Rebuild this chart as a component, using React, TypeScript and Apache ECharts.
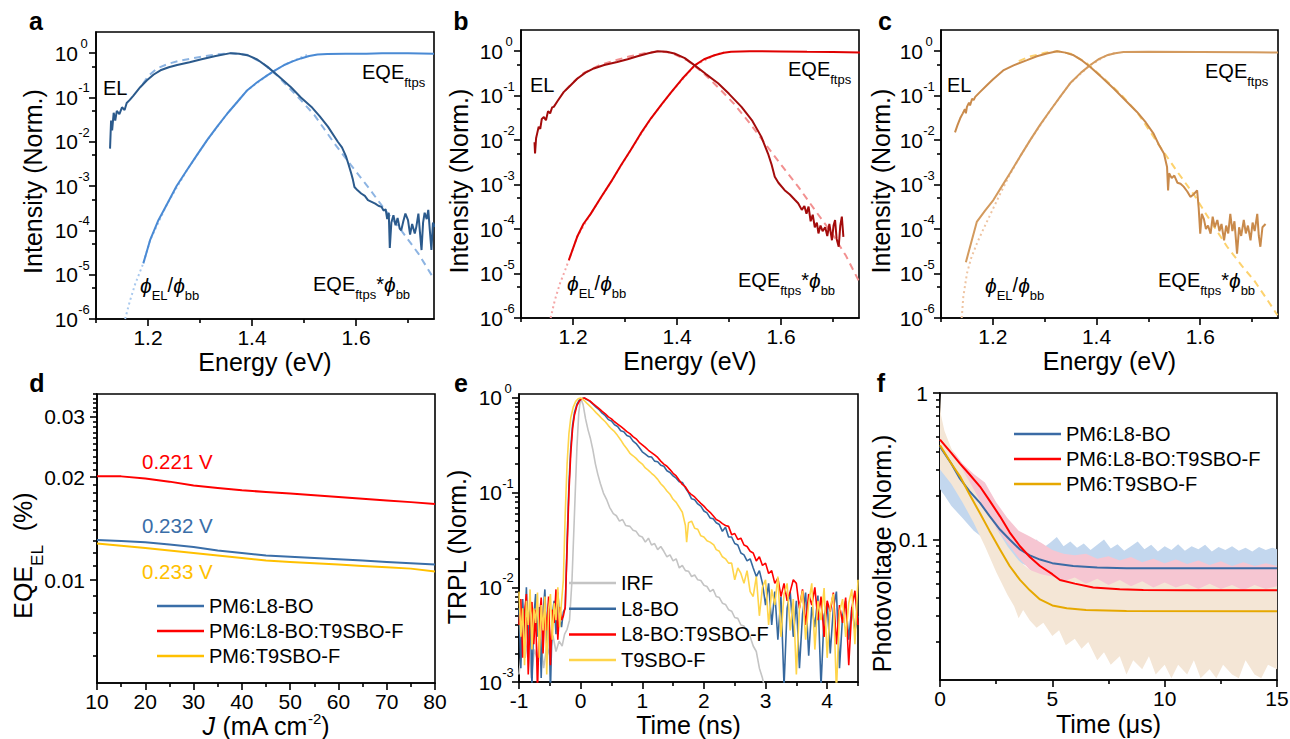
import React, { useEffect, useRef } from 'react';
import * as echarts from 'echarts';

const FONT = "'Liberation Sans', Arial, Helvetica, sans-serif";

// ---------------- ticks ----------------
const energyMajor = [1.2, 1.4, 1.6];
const energyMinor = [1.1, 1.3, 1.5, 1.7];
const intensityMajor = [1e-6, 1e-5, 1e-4, 1e-3, 1e-2, 1e-1, 1];
const intensityMinor = [5e-6, 5e-5, 5e-4, 5e-3, 5e-2, 5e-1];
const jMajor = [10, 20, 30, 40, 50, 60, 70, 80];
const jMinor = [15, 25, 35, 45, 55, 65, 75];
const eqeMajor = [0.01, 0.02, 0.03];
const eqeMinor = [0.006, 0.007, 0.008, 0.009, 0.011, 0.012, 0.013, 0.014, 0.015, 0.016, 0.017, 0.018, 0.019,
  0.021, 0.022, 0.023, 0.024, 0.025, 0.026, 0.027, 0.028, 0.029, 0.031, 0.032, 0.033, 0.034, 0.035];
const tnsMajor = [-1, 0, 1, 2, 3, 4];
const tnsMinor = [-0.5, 0.5, 1.5, 2.5, 3.5, 4.5];
const trplMajor = [1e-3, 1e-2, 1e-1, 1];
const trplMinor = [0.002, 0.003, 0.004, 0.005, 0.006, 0.007, 0.008, 0.009, 0.02, 0.03, 0.04, 0.05, 0.06, 0.07, 0.08, 0.09,
  0.2, 0.3, 0.4, 0.5, 0.6, 0.7, 0.8, 0.9];
const tusMajor = [0, 5, 10, 15];
const tusMinor = [2.5, 7.5, 12.5];
const pvMajor = [0.1, 1];
const pvMinor = [0.02, 0.03, 0.04, 0.05, 0.06, 0.07, 0.08, 0.09, 0.2, 0.3, 0.4, 0.5, 0.6, 0.7, 0.8, 0.9];

// ---------------- panel a ----------------
const aEL = [[1.127, 0.007], [1.129, 0.03], [1.131, 0.018], [1.134, 0.045], [1.137, 0.03], [1.14, 0.05], [1.145, 0.042], [1.15, 0.06],
  [1.155, 0.052], [1.159, 0.075], [1.165, 0.088], [1.172, 0.11], [1.185, 0.17], [1.198, 0.245], [1.211, 0.33], [1.224, 0.41],
  [1.24, 0.48], [1.256, 0.54], [1.28, 0.62], [1.301, 0.72], [1.33, 0.86], [1.359, 1.0], [1.375, 0.97], [1.391, 0.9], [1.41, 0.72],
  [1.43, 0.49], [1.45, 0.31], [1.475, 0.17], [1.494, 0.1], [1.514, 0.062], [1.53, 0.038], [1.546, 0.022], [1.565, 0.01],
  [1.573, 0.0075], [1.581, 0.0046], [1.586, 0.003], [1.591, 0.0019], [1.594, 0.0014], [1.597, 0.00095], [1.603, 0.0008],
  [1.61, 0.00068], [1.617, 0.0006], [1.623, 0.00048], [1.63, 0.00044], [1.637, 0.0004], [1.643, 0.00036], [1.649, 0.00034],
  [1.653, 0.00028], [1.657, 0.0003], [1.66, 0.00018], [1.663, 0.00025], [1.665, 0.00004], [1.668, 0.00015], [1.672, 0.00022],
  [1.676, 0.00013], [1.68, 0.00019], [1.684, 0.00011], [1.687, 0.0001], [1.691, 0.00016], [1.695, 0.00024], [1.7, 0.00017],
  [1.704, 0.00008], [1.708, 0.00014], [1.713, 0.000085], [1.716, 0.00012], [1.72, 0.00024], [1.723, 0.00009], [1.726, 0.000036],
  [1.729, 0.00015], [1.732, 0.00025], [1.736, 0.00018], [1.739, 0.00029], [1.742, 0.0001], [1.745, 0.000036], [1.748, 0.00015],
  [1.752, 0.00012]];
const aFit = [[1.19, 0.2], [1.2, 0.3], [1.217, 0.45], [1.24, 0.58], [1.262, 0.68], [1.3, 0.82], [1.33, 0.93], [1.36, 1.0],
  [1.39, 0.92], [1.42, 0.6], [1.45, 0.3], [1.494, 0.087], [1.52, 0.04], [1.559, 0.009], [1.59, 0.003], [1.623, 0.00096],
  [1.655, 0.0003], [1.687, 0.0001], [1.72, 0.00003], [1.75, 0.000008]];
const aEQE = [[1.191, 1.8e-5], [1.204, 6e-5], [1.22, 1.7e-4], [1.237, 4e-4], [1.255, 1e-3], [1.275, 2.3e-3], [1.295, 5.2e-3],
  [1.314, 0.011], [1.333, 0.022], [1.353, 0.044], [1.372, 0.08], [1.391, 0.146], [1.41, 0.22], [1.43, 0.32], [1.446, 0.42],
  [1.462, 0.54], [1.478, 0.65], [1.494, 0.76], [1.51, 0.86], [1.526, 0.93], [1.545, 0.96], [1.58, 0.97], [1.62, 0.97],
  [1.65, 1.0], [1.7, 0.99], [1.75, 0.97]];
const aPhi = [[1.156, 1e-6], [1.165, 2.5e-6], [1.175, 6e-6], [1.185, 1.2e-5], [1.191, 1.8e-5], [1.204, 6e-5], [1.237, 4e-4],
  [1.275, 2.3e-3], [1.314, 0.011], [1.353, 0.044], [1.391, 0.146], [1.43, 0.32], [1.462, 0.54], [1.494, 0.8], [1.51, 0.95]];

// ---------------- panel b ----------------
const bEL = [[1.126, 0.009], [1.127, 0.005], [1.129, 0.011], [1.131, 0.014], [1.134, 0.02], [1.137, 0.018], [1.14, 0.03],
  [1.144, 0.033], [1.148, 0.028], [1.152, 0.045], [1.156, 0.04], [1.16, 0.055], [1.163, 0.056], [1.17, 0.075], [1.182, 0.12],
  [1.195, 0.17], [1.208, 0.24], [1.224, 0.33], [1.24, 0.41], [1.26, 0.49], [1.285, 0.57], [1.305, 0.66], [1.324, 0.77],
  [1.345, 0.9], [1.363, 1.0], [1.38, 0.97], [1.395, 0.89], [1.415, 0.7], [1.434, 0.48], [1.455, 0.31], [1.479, 0.19], [1.5, 0.11],
  [1.524, 0.056], [1.545, 0.027], [1.562, 0.012], [1.575, 0.005], [1.582, 0.0028], [1.588, 0.0015], [1.595, 0.0011],
  [1.607, 0.00075], [1.617, 0.0006], [1.627, 0.00045], [1.633, 0.00038], [1.64, 0.00027], [1.645, 0.00033], [1.649, 0.00022],
  [1.653, 0.00032], [1.657, 0.00015], [1.661, 0.00021], [1.665, 0.00011], [1.669, 0.00014], [1.672, 0.00008], [1.676, 0.00012],
  [1.68, 0.00009], [1.685, 0.00011], [1.689, 0.00007], [1.693, 0.00013], [1.698, 0.000056], [1.701, 0.00012], [1.704, 0.00016],
  [1.707, 0.00006], [1.711, 0.00004], [1.714, 0.00012], [1.717, 0.00019], [1.72, 0.000067]];
const bFit = [[1.185, 0.13], [1.2, 0.2], [1.22, 0.32], [1.25, 0.48], [1.28, 0.62], [1.31, 0.77], [1.34, 0.92], [1.365, 1.0],
  [1.39, 0.92], [1.42, 0.62], [1.45, 0.33], [1.48, 0.15], [1.51, 0.065], [1.54, 0.024], [1.569, 0.0085], [1.6, 0.0028],
  [1.633, 0.0009], [1.665, 0.00027], [1.698, 0.00008], [1.725, 0.000025], [1.752, 0.000006]];
const bEQE = [[1.192, 2e-5], [1.208, 6.7e-5], [1.22, 1.3e-4], [1.234, 2.2e-4], [1.253, 5e-4], [1.273, 1.15e-3], [1.292, 2.7e-3],
  [1.311, 6e-3], [1.33, 0.014], [1.35, 0.031], [1.37, 0.063], [1.389, 0.12], [1.41, 0.24], [1.434, 0.48], [1.452, 0.66],
  [1.472, 0.81], [1.49, 0.92], [1.504, 0.97], [1.54, 1.0], [1.6, 0.99], [1.65, 0.97], [1.7, 0.96], [1.752, 0.94]];
const bPhi = [[1.157, 1e-6], [1.165, 2.5e-6], [1.175, 6e-6], [1.185, 1.2e-5], [1.192, 2e-5], [1.208, 6.7e-5], [1.234, 2.2e-4],
  [1.273, 1.15e-3], [1.311, 6e-3], [1.35, 0.031], [1.389, 0.12], [1.434, 0.48], [1.472, 0.81], [1.49, 0.95]];

// ---------------- panel c ----------------
const cEL = [[1.127, 0.015], [1.132, 0.022], [1.137, 0.031], [1.142, 0.04], [1.146, 0.05], [1.148, 0.04], [1.15, 0.056],
  [1.154, 0.07], [1.156, 0.06], [1.16, 0.085], [1.163, 0.08], [1.166, 0.094], [1.175, 0.12], [1.188, 0.17], [1.2, 0.23],
  [1.22, 0.37], [1.24, 0.48], [1.266, 0.63], [1.285, 0.77], [1.304, 0.89], [1.324, 1.0], [1.34, 0.93], [1.356, 0.81],
  [1.372, 0.62], [1.388, 0.44], [1.41, 0.26], [1.433, 0.145], [1.455, 0.08], [1.478, 0.043], [1.495, 0.025], [1.51, 0.014],
  [1.52, 0.008], [1.53, 0.005], [1.536, 0.0025], [1.538, 0.00074], [1.54, 0.0018], [1.545, 0.0014], [1.55, 0.0016],
  [1.556, 0.0011], [1.562, 0.00105], [1.568, 0.0009], [1.575, 0.0007], [1.581, 0.00053], [1.587, 0.0006], [1.594, 0.00074],
  [1.597, 0.0003], [1.6, 0.000079], [1.603, 0.00022], [1.607, 0.00017], [1.611, 0.0001], [1.615, 0.00012], [1.62, 0.000079],
  [1.624, 0.00019], [1.628, 0.00011], [1.633, 0.00016], [1.637, 0.00009], [1.641, 0.00013], [1.646, 0.000056], [1.65, 0.00012],
  [1.654, 0.00008], [1.658, 0.00022], [1.662, 0.00009], [1.666, 0.00015], [1.671, 0.000028], [1.675, 0.00011], [1.679, 0.00007],
  [1.684, 0.00016], [1.688, 0.00008], [1.692, 0.00012], [1.697, 0.000056], [1.701, 0.00014], [1.705, 0.00009], [1.71, 0.00022],
  [1.713, 0.00007], [1.716, 0.00004], [1.72, 0.00011], [1.726, 0.00013]];
const cFit = [[1.25, 0.6], [1.27, 0.75], [1.3, 0.92], [1.324, 1.0], [1.35, 0.88], [1.38, 0.55], [1.41, 0.27], [1.446, 0.11],
  [1.48, 0.04], [1.523, 0.007], [1.555, 0.002], [1.588, 0.00059], [1.62, 0.00015], [1.652, 0.00004], [1.68, 0.000015],
  [1.704, 0.000007], [1.73, 0.0000025], [1.749, 0.00000115]];
const cEQE = [[1.148, 1.8e-5], [1.169, 1.45e-4], [1.185, 2.6e-4], [1.201, 4.5e-4], [1.217, 9e-4], [1.233, 1.8e-3],
  [1.252, 4.2e-3], [1.272, 0.01], [1.291, 0.022], [1.311, 0.047], [1.33, 0.095], [1.349, 0.19], [1.37, 0.33], [1.388, 0.49],
  [1.405, 0.67], [1.42, 0.81], [1.436, 0.9], [1.452, 0.96], [1.5, 0.97], [1.6, 0.96], [1.7, 0.95], [1.75, 0.93]];
const cPhi = [[1.14, 1e-6], [1.143, 3e-6], [1.15, 1e-5], [1.158, 2.2e-5], [1.17, 5e-5], [1.185, 1.2e-4], [1.2, 2.8e-4],
  [1.215, 6.5e-4], [1.233, 1.7e-3], [1.252, 4.2e-3], [1.272, 0.01], [1.311, 0.047], [1.349, 0.19], [1.388, 0.49], [1.42, 0.81],
  [1.44, 0.95]];

// ---------------- panel d ----------------
const dJ = [10, 15, 20, 25, 30, 35, 40, 45, 50, 55, 60, 65, 70, 75, 80];
const dL8 = [0.0131, 0.0130, 0.0129, 0.0127, 0.0125, 0.0122, 0.0120, 0.0118, 0.0117, 0.0116, 0.0115, 0.0114, 0.0113, 0.0112, 0.0111];
const dTer = [0.0201, 0.0201, 0.0198, 0.0194, 0.0189, 0.0186, 0.0183, 0.0181, 0.0179, 0.0177, 0.0175, 0.0173, 0.0171, 0.0169, 0.0167];
const dT9 = [0.0128, 0.0126, 0.0124, 0.0122, 0.0120, 0.0118, 0.0116, 0.0114, 0.0113, 0.0112, 0.0111, 0.0110, 0.0109, 0.0108, 0.0106];
const dNames = ['PM6:L8-BO', 'PM6:L8-BO:T9SBO-F', 'PM6:T9SBO-F'];
const dVoc = ['0.232 V', '0.221 V', '0.233 V'];

// ---------------- panel e ----------------
const eIRF = [[-1.0, 0.0012], [-0.95, 0.0025], [-0.9, 0.0018], [-0.85, 0.003], [-0.8, 0.0011], [-0.75, 0.0022], [-0.7, 0.0017],
  [-0.65, 0.0028], [-0.6, 0.0014], [-0.55, 0.0024], [-0.5, 0.0019], [-0.45, 0.0031], [-0.4, 0.0021], [-0.35, 0.0027], [-0.3, 0.0024],
  [-0.26, 0.0032], [-0.22, 0.0036], [-0.18, 0.0045], [-0.14, 0.012], [-0.1, 0.06], [-0.06, 0.3], [-0.03, 0.7], [0.0, 1.0],
  [0.04, 0.85], [0.08, 0.6], [0.12, 0.46], [0.16, 0.37], [0.2, 0.28], [0.24, 0.2], [0.28, 0.155], [0.32, 0.125], [0.37, 0.099],
  [0.42, 0.085], [0.47, 0.07], [0.53, 0.06], [0.58, 0.057], [0.63, 0.05], [0.68, 0.052], [0.73, 0.045], [0.8, 0.044], [0.85, 0.04],
  [0.9, 0.039], [0.95, 0.035], [1.0, 0.034], [1.05, 0.03], [1.1, 0.033], [1.15, 0.028], [1.2, 0.029], [1.25, 0.025], [1.3, 0.027],
  [1.35, 0.024], [1.4, 0.021], [1.45, 0.022], [1.5, 0.019], [1.55, 0.02], [1.6, 0.016], [1.65, 0.017], [1.7, 0.015], [1.75, 0.0148],
  [1.8, 0.013], [1.85, 0.0135], [1.9, 0.012], [1.95, 0.0118], [2.0, 0.0105], [2.05, 0.0102], [2.1, 0.009], [2.15, 0.0095],
  [2.2, 0.008], [2.25, 0.0078], [2.3, 0.0068], [2.35, 0.0066], [2.4, 0.0058], [2.45, 0.0056], [2.5, 0.0048], [2.55, 0.0047],
  [2.6, 0.004], [2.65, 0.0039], [2.7, 0.0033], [2.75, 0.003], [2.8, 0.0024], [2.85, 0.0021], [2.9, 0.0014], [2.95, 0.0011],
  [3.0, 0.0008]];
const eL8 = [[-1.0, 0.006], [-0.97, 0.0014], [-0.94, 0.0075], [-0.91, 0.0028], [-0.88, 0.01], [-0.85, 0.0022], [-0.82, 0.0065],
  [-0.79, 0.0009], [-0.76, 0.0048], [-0.73, 0.0085], [-0.7, 0.003], [-0.67, 0.0062], [-0.64, 0.0011], [-0.61, 0.0052],
  [-0.58, 0.0095], [-0.55, 0.0025], [-0.52, 0.0068], [-0.49, 0.0008], [-0.46, 0.005], [-0.43, 0.0072], [-0.4, 0.0032],
  [-0.37, 0.0088], [-0.34, 0.0047], [-0.31, 0.0038], [-0.28, 0.0055], [-0.25, 0.006], [-0.22, 0.03], [-0.19, 0.12], [-0.16, 0.3],
  [-0.13, 0.52], [-0.1, 0.7], [-0.06, 0.86], [-0.02, 0.95], [0.02, 0.98], [0.06, 1.0], [0.1, 0.96], [0.15, 0.92], [0.2, 0.86],
  [0.25, 0.8], [0.3, 0.75], [0.35, 0.69], [0.4, 0.65], [0.45, 0.59], [0.5, 0.57], [0.55, 0.52], [0.6, 0.5], [0.65, 0.45],
  [0.7, 0.44], [0.75, 0.4], [0.8, 0.39], [0.85, 0.35], [0.9, 0.33], [0.95, 0.3], [1.0, 0.27], [1.05, 0.255], [1.1, 0.24],
  [1.15, 0.238], [1.2, 0.215], [1.25, 0.212], [1.3, 0.195], [1.35, 0.19], [1.4, 0.17], [1.45, 0.163], [1.5, 0.15], [1.55, 0.142],
  [1.6, 0.13], [1.65, 0.128], [1.7, 0.112], [1.75, 0.1], [1.8, 0.086], [1.85, 0.084], [1.9, 0.076], [1.95, 0.072], [2.0, 0.064],
  [2.05, 0.061], [2.1, 0.054], [2.15, 0.053], [2.2, 0.048], [2.25, 0.046], [2.3, 0.039], [2.35, 0.043], [2.4, 0.034],
  [2.45, 0.034], [2.5, 0.029], [2.55, 0.028], [2.6, 0.023], [2.65, 0.022], [2.7, 0.019], [2.75, 0.02], [2.8, 0.016],
  [2.85, 0.013], [2.9, 0.015], [2.95, 0.011], [3.0, 0.0065], [3.05, 0.011], [3.1, 0.004], [3.15, 0.009], [3.2, 0.0028],
  [3.25, 0.008], [3.3, 0.0009], [3.35, 0.006], [3.4, 0.009], [3.45, 0.003], [3.5, 0.0072], [3.55, 0.0014], [3.6, 0.0052],
  [3.65, 0.0088], [3.7, 0.0019], [3.75, 0.0062], [3.8, 0.0038], [3.85, 0.0082], [3.9, 0.0009], [3.95, 0.005], [4.0, 0.0068],
  [4.05, 0.002], [4.1, 0.006], [4.15, 0.009], [4.2, 0.0014], [4.25, 0.005], [4.3, 0.0072], [4.35, 0.0028], [4.4, 0.0062],
  [4.45, 0.0035], [4.5, 0.005]];
const eTer = [[-1.0, 0.004], [-0.97, 0.0075], [-0.94, 0.0018], [-0.91, 0.0055], [-0.88, 0.0085], [-0.85, 0.0012], [-0.82, 0.005],
  [-0.79, 0.007], [-0.76, 0.0025], [-0.73, 0.0058], [-0.7, 0.0008], [-0.67, 0.0045], [-0.64, 0.0078], [-0.61, 0.002],
  [-0.58, 0.0062], [-0.55, 0.0035], [-0.52, 0.008], [-0.49, 0.0015], [-0.46, 0.0058], [-0.43, 0.0042], [-0.4, 0.0095],
  [-0.37, 0.0028], [-0.34, 0.0062], [-0.31, 0.0045], [-0.28, 0.005], [-0.25, 0.0062], [-0.22, 0.025], [-0.19, 0.1], [-0.16, 0.26],
  [-0.13, 0.48], [-0.1, 0.66], [-0.06, 0.83], [-0.02, 0.93], [0.02, 0.98], [0.06, 1.0], [0.1, 0.97], [0.15, 0.93], [0.2, 0.87],
  [0.25, 0.82], [0.3, 0.77], [0.35, 0.72], [0.4, 0.68], [0.45, 0.63], [0.5, 0.6], [0.55, 0.56], [0.6, 0.53], [0.65, 0.5],
  [0.7, 0.47], [0.75, 0.44], [0.8, 0.42], [0.85, 0.39], [0.9, 0.37], [0.95, 0.34], [1.0, 0.32], [1.05, 0.3], [1.1, 0.28],
  [1.15, 0.265], [1.2, 0.25], [1.25, 0.235], [1.3, 0.215], [1.35, 0.2], [1.4, 0.19], [1.45, 0.175], [1.5, 0.16], [1.55, 0.15],
  [1.6, 0.135], [1.65, 0.122], [1.7, 0.115], [1.75, 0.102], [1.8, 0.095], [1.85, 0.09], [1.9, 0.083], [1.95, 0.077], [2.0, 0.072],
  [2.05, 0.066], [2.1, 0.062], [2.15, 0.057], [2.2, 0.052], [2.25, 0.05], [2.3, 0.047], [2.35, 0.045], [2.4, 0.044], [2.45, 0.036],
  [2.5, 0.037], [2.55, 0.032], [2.6, 0.033], [2.65, 0.028], [2.7, 0.027], [2.75, 0.024], [2.8, 0.023], [2.85, 0.019],
  [2.9, 0.021], [2.95, 0.017], [3.0, 0.018], [3.05, 0.014], [3.1, 0.015], [3.15, 0.011], [3.2, 0.0125], [3.25, 0.008],
  [3.3, 0.011], [3.35, 0.0072], [3.4, 0.009], [3.45, 0.012], [3.5, 0.011], [3.55, 0.006], [3.6, 0.0095], [3.65, 0.004],
  [3.7, 0.0085], [3.75, 0.0065], [3.8, 0.01], [3.85, 0.0045], [3.9, 0.008], [3.95, 0.003], [4.0, 0.0072], [4.05, 0.0055],
  [4.1, 0.0088], [4.15, 0.0025], [4.2, 0.0065], [4.25, 0.0042], [4.3, 0.0078], [4.35, 0.0015], [4.4, 0.006], [4.45, 0.0092],
  [4.5, 0.004]];
const eT9 = [[-1.0, 0.009], [-0.97, 0.003], [-0.94, 0.006], [-0.91, 0.0015], [-0.88, 0.0072], [-0.85, 0.004], [-0.82, 0.0095],
  [-0.79, 0.0022], [-0.76, 0.006], [-0.73, 0.0042], [-0.7, 0.0088], [-0.67, 0.0018], [-0.64, 0.0065], [-0.61, 0.0035],
  [-0.58, 0.008], [-0.55, 0.0012], [-0.52, 0.0058], [-0.49, 0.0085], [-0.46, 0.0028], [-0.43, 0.0068], [-0.4, 0.0045],
  [-0.37, 0.01], [-0.34, 0.0038], [-0.31, 0.007], [-0.28, 0.012], [-0.25, 0.06], [-0.22, 0.2], [-0.19, 0.42], [-0.16, 0.62],
  [-0.12, 0.8], [-0.08, 0.92], [-0.04, 0.98], [0.0, 1.0], [0.05, 0.95], [0.1, 0.88], [0.15, 0.82], [0.2, 0.76], [0.25, 0.7],
  [0.3, 0.65], [0.35, 0.6], [0.4, 0.56], [0.45, 0.51], [0.5, 0.47], [0.55, 0.44], [0.6, 0.4], [0.65, 0.36], [0.7, 0.32],
  [0.75, 0.29], [0.8, 0.26], [0.85, 0.245], [0.9, 0.23], [0.95, 0.212], [1.0, 0.2], [1.05, 0.182], [1.1, 0.172], [1.15, 0.16],
  [1.2, 0.15], [1.25, 0.138], [1.3, 0.124], [1.35, 0.115], [1.4, 0.104], [1.45, 0.096], [1.5, 0.085], [1.55, 0.079], [1.6, 0.07],
  [1.65, 0.062], [1.7, 0.045], [1.72, 0.03], [1.75, 0.048], [1.8, 0.05], [1.85, 0.042], [1.9, 0.041], [1.95, 0.035], [2.0, 0.034],
  [2.05, 0.031], [2.1, 0.03], [2.16, 0.028], [2.2, 0.025], [2.25, 0.024], [2.3, 0.021], [2.35, 0.02], [2.4, 0.018], [2.45, 0.018],
  [2.5, 0.012], [2.55, 0.016], [2.6, 0.014], [2.65, 0.011], [2.7, 0.015], [2.75, 0.009], [2.8, 0.008], [2.85, 0.013], [2.9, 0.005],
  [2.95, 0.01], [3.0, 0.012], [3.05, 0.004], [3.1, 0.0095], [3.15, 0.0065], [3.2, 0.013], [3.25, 0.003], [3.3, 0.0085],
  [3.35, 0.011], [3.4, 0.0035], [3.45, 0.0075], [3.5, 0.0012], [3.55, 0.006], [3.6, 0.0092], [3.65, 0.0028], [3.7, 0.0068],
  [3.75, 0.011], [3.8, 0.0022], [3.85, 0.0072], [3.9, 0.0045], [3.95, 0.0098], [4.0, 0.0018], [4.05, 0.0062], [4.1, 0.0085],
  [4.15, 0.0008], [4.2, 0.0055], [4.25, 0.0075], [4.3, 0.003], [4.35, 0.0068], [4.4, 0.0095], [4.45, 0.0025], [4.5, 0.012]];
const eNames = ['IRF', 'L8-BO', 'L8-BO:T9SBO-F', 'T9SBO-F'];

// ---------------- panel f ----------------
const fL8Fit = [[0, 0.43], [0.5, 0.33], [0.89, 0.26], [1.3, 0.215], [1.78, 0.178], [2.2, 0.145], [2.67, 0.117], [3.1, 0.1],
  [3.56, 0.0855], [4.0, 0.078], [4.45, 0.073], [5.0, 0.069], [5.93, 0.066], [7, 0.0645], [8.3, 0.0638], [10, 0.0636], [15, 0.0636]];
const fTerFit = [[0, 0.48], [0.5, 0.39], [0.89, 0.33], [1.3, 0.28], [1.78, 0.23], [2.2, 0.185], [2.67, 0.144], [3.1, 0.112],
  [3.56, 0.09], [4.0, 0.076], [4.45, 0.066], [5.0, 0.058], [5.34, 0.053], [6.0, 0.05], [6.82, 0.047], [8, 0.0457], [9.05, 0.0452],
  [11, 0.045], [15, 0.045]];
const fT9Fit = [[0, 0.44], [0.5, 0.33], [0.89, 0.27], [1.3, 0.205], [1.78, 0.151], [2.2, 0.115], [2.67, 0.0855], [3.1, 0.066],
  [3.56, 0.053], [4.0, 0.045], [4.45, 0.039], [5.0, 0.0355], [5.64, 0.034], [6.5, 0.033], [8.3, 0.0325], [15, 0.0324]];
const fL8Hi = [[0, 0.45], [0.2, 0.4], [0.5, 0.33], [0.8, 0.27], [1.2, 0.21], [1.6, 0.17], [2.0, 0.145], [2.4, 0.125], [2.8, 0.11],
  [3.2, 0.1], [3.6, 0.095], [4.0, 0.092], [4.3, 0.1], [4.6, 0.088], [4.9, 0.095], [5.2, 0.104], [5.5, 0.09], [5.8, 0.097],
  [6.1, 0.088], [6.4, 0.094], [6.7, 0.085], [7.0, 0.092], [7.3, 0.1], [7.6, 0.087], [7.9, 0.093], [8.2, 0.084], [8.5, 0.09],
  [8.8, 0.097], [9.1, 0.086], [9.4, 0.092], [9.7, 0.083], [10.0, 0.09], [10.3, 0.085], [10.6, 0.093], [10.9, 0.084], [11.2, 0.09],
  [11.5, 0.086], [11.8, 0.092], [12.1, 0.083], [12.4, 0.089], [12.7, 0.085], [13.0, 0.09], [13.3, 0.084], [13.6, 0.088],
  [13.9, 0.083], [14.2, 0.089], [14.5, 0.085], [14.8, 0.088], [15, 0.086]];
const fL8Lo = [[0, 0.22], [0.2, 0.2], [0.5, 0.17], [1.0, 0.14], [1.5, 0.115], [2.0, 0.1], [2.5, 0.088], [3.0, 0.078], [3.5, 0.07],
  [4.0, 0.065], [5.0, 0.062], [15, 0.062]];
const fTerHi = [[0, 0.6], [0.3, 0.45], [0.7, 0.38], [1.0, 0.33], [1.5, 0.28], [2.0, 0.245], [2.5, 0.18], [3.0, 0.14], [3.5, 0.115],
  [4.0, 0.105], [4.5, 0.095], [5.0, 0.085], [5.5, 0.08], [6.0, 0.078], [6.5, 0.08], [7.0, 0.074], [7.5, 0.077], [8.0, 0.072],
  [8.5, 0.076], [9.0, 0.07], [9.5, 0.074], [10.0, 0.069], [10.5, 0.073], [11.0, 0.068], [11.5, 0.072], [12.0, 0.067],
  [12.5, 0.071], [13.0, 0.066], [13.5, 0.07], [14.0, 0.066], [14.5, 0.069], [15.0, 0.066]];
const fTerLo = [[0, 0.38], [0.5, 0.31], [1.0, 0.25], [1.5, 0.2], [2.0, 0.155], [2.5, 0.12], [3.0, 0.095], [3.5, 0.075], [4.0, 0.062],
  [4.5, 0.055], [5.0, 0.05], [6.0, 0.046], [7.0, 0.043], [8.0, 0.042], [9.0, 0.041], [10, 0.042], [11, 0.04], [12, 0.041],
  [13, 0.04], [14, 0.041], [15, 0.04]];
const fT9Hi = [[0, 1.0], [0.05, 0.7], [0.2, 0.55], [0.5, 0.42], [1.0, 0.3], [1.5, 0.22], [2.0, 0.16], [2.5, 0.12], [3.0, 0.09],
  [3.5, 0.072], [4.0, 0.062], [4.5, 0.058], [5.0, 0.056], [5.5, 0.052], [6.0, 0.055], [6.5, 0.05], [7.0, 0.054], [7.5, 0.049],
  [8.0, 0.053], [8.5, 0.048], [9.0, 0.052], [9.5, 0.047], [10, 0.051], [10.5, 0.047], [11, 0.05], [11.5, 0.046], [12, 0.05],
  [12.5, 0.046], [13, 0.049], [13.5, 0.045], [14, 0.049], [14.5, 0.046], [15, 0.048]];
const fT9Lo = [[0, 0.3], [0.5, 0.24], [1.0, 0.18], [1.5, 0.13], [2.0, 0.09], [2.5, 0.06], [3.0, 0.042], [3.3, 0.035],
  [3.5, 0.029], [3.7, 0.033], [4.0, 0.028], [4.3, 0.025], [4.6, 0.027], [5.0, 0.022], [5.3, 0.024], [5.6, 0.019], [6.0, 0.021],
  [6.3, 0.018], [6.6, 0.02], [7.0, 0.015], [7.3, 0.017], [7.6, 0.014], [8.0, 0.016], [8.3, 0.012], [8.6, 0.015], [9.0, 0.013],
  [9.3, 0.016], [9.6, 0.012], [10, 0.014], [10.3, 0.0113], [10.6, 0.014], [11.0, 0.012], [11.3, 0.015], [11.6, 0.0113],
  [12, 0.013], [12.3, 0.0113], [12.6, 0.014], [13, 0.012], [13.3, 0.0113], [13.6, 0.015], [14, 0.012], [14.3, 0.0113],
  [14.6, 0.014], [15, 0.013]];

// ---------------- layout ----------------
const GRIDS = [
  { left: 96, top: 32, width: 338, height: 287 },
  { left: 521, top: 30, width: 338, height: 288 },
  { left: 941, top: 30, width: 337, height: 288 },
  { left: 97, top: 394, width: 338, height: 289 },
  { left: 519, top: 394, width: 339, height: 288 },
  { left: 940, top: 393, width: 337, height: 287 },
];

const AXW = 1.6;
const TICKFS = 21;
const tickRich = {
  b: { fontSize: TICKFS, lineHeight: 32, fontFamily: FONT, color: '#000' },
  s: { fontSize: 13, lineHeight: 14, verticalAlign: 'top', width: 12, align: 'left', fontFamily: FONT, color: '#000' },
};
const fmtPow = (v: number) => `{b|10}{s|${Math.round(Math.log10(v))}}`;

function axisPair(dim: string, gi: number, type: string, min: number, max: number, majors: number[], minors: number[],
  fmt: any, margin: number, name: any, nameGap: number, nameStyle: any) {
  const common: any = {
    type, gridIndex: gi, min, max, position: dim === 'x' ? 'bottom' : 'left',
    splitLine: { show: false }, splitArea: { show: false }, nameMoveOverlap: false,
  };
  if (type === 'log') common.logBase = 10;
  const major = {
    ...common,
    axisLine: { show: true, onZero: false, lineStyle: { color: '#000', width: AXW } },
    axisTick: { show: true, inside: false, length: 7, lineStyle: { color: '#000', width: AXW }, customValues: majors },
    axisLabel: {
      show: true, customValues: majors, formatter: fmt, margin, color: '#000', fontSize: TICKFS, fontFamily: FONT,
      lineHeight: 21, rich: tickRich, hideOverlap: false,
    },
    name, nameLocation: 'middle', nameGap, nameRotate: dim === 'y' ? 90 : 0,
    nameTextStyle: { fontSize: 25, lineHeight: 25, fontFamily: FONT, color: '#000', ...nameStyle },
  };
  const minor = {
    ...common,
    axisLine: { show: false, onZero: false },
    axisTick: { show: true, inside: false, length: 4, lineStyle: { color: '#000', width: AXW }, customValues: minors },
    axisLabel: { show: false },
  };
  return [major, minor];
}

function lineS(name: string, data: any, p: number, color: string, width = 2, type: any = 'solid', z = 2) {
  return {
    type: 'line', name, data, xAxisIndex: 2 * p, yAxisIndex: 2 * p, showSymbol: false, symbol: 'none',
    lineStyle: { color, width, type }, itemStyle: { color }, clip: true, z, animation: false,
  };
}

function bandS(upper: number[][], lower: number[][], p: number, color: string) {
  return {
    type: 'custom', xAxisIndex: 2 * p, yAxisIndex: 2 * p, silent: true, clip: true, z: 1,
    data: [[upper[0][0], upper[0][1]]],
    renderItem: (_params: any, api: any) => {
      const pts = upper.map((q) => api.coord(q)).concat(lower.slice().reverse().map((q) => api.coord(q)));
      return { type: 'polygon', shape: { points: pts }, style: { fill: color, stroke: null } };
    },
  };
}

const annoRich = {
  m: { fontSize: 20, fontFamily: FONT, fill: '#000', lineHeight: 34 },
  i: { fontSize: 21, fontFamily: FONT, fontStyle: 'italic', fill: '#000', lineHeight: 34 },
  s: { fontSize: 13, fontFamily: FONT, fill: '#000', lineHeight: 13, verticalAlign: 'bottom' },
};

function txt(x: number, y: number, text: string, extra: any = {}) {
  return {
    type: 'text', x, y, silent: true,
    style: { text, rich: annoRich, fontSize: 20, fontFamily: FONT, fill: '#000', align: 'left', verticalAlign: 'middle', ...extra },
  };
}

function buildOption() {
  const xAxis: any[] = [];
  const yAxis: any[] = [];
  const fmt1 = (v: number) => v.toFixed(1);
  const fmtInt = (v: number) => String(Math.round(v));
  const fmt2 = (v: number) => v.toFixed(2);
  const fmtPv = (v: number) => (v >= 1 ? '1' : '0.1');

  // panels a, b, c
  const yGaps = [51, 50, 48];
  const yPads = [12, 14, 14];
  for (let p = 0; p < 3; p++) {
    xAxis.push(...axisPair('x', p, 'value', 1.1, 1.75, energyMajor, energyMinor, fmt1, 8, 'Energy (eV)', 30, {}));
    yAxis.push(...axisPair('y', p, 'log', 1e-6, 3, intensityMajor, intensityMinor, fmtPow, 6, 'Intensity (Norm.)',
      yGaps[p], { padding: [0, yPads[p], 0, 0] }));
  }
  // panel d
  xAxis.push(...axisPair('x', 3, 'value', 10, 80, jMajor, jMinor, fmtInt, 8, '{i|J}{m| (mA cm}{p|-2}{m|)}', 28, {
    lineHeight: 30,
    rich: {
      i: { fontSize: 25, fontStyle: 'italic', fontFamily: FONT, color: '#000', lineHeight: 30 },
      m: { fontSize: 25, fontFamily: FONT, color: '#000', lineHeight: 30 },
      p: { fontSize: 15, fontFamily: FONT, color: '#000', lineHeight: 15, verticalAlign: 'top' },
    },
  }));
  yAxis.push(...axisPair('y', 3, 'log', 0.005, 0.035, eqeMajor, eqeMinor, fmt2, 12, '{m|EQE}{s|EL}{m|  (%)}', 51, {
    padding: [0, 34, 0, 0], lineHeight: 46,
    rich: {
      m: { fontSize: 25, fontFamily: FONT, color: '#000', lineHeight: 46 },
      s: { fontSize: 17, fontFamily: FONT, color: '#000', lineHeight: 17, verticalAlign: 'bottom' },
    },
  }));
  // panel e
  xAxis.push(...axisPair('x', 4, 'value', -1, 4.5, tnsMajor, tnsMinor, fmtInt, 8, 'Time (ns)', 30, {}));
  yAxis.push(...axisPair('y', 4, 'log', 0.001, 1.1, trplMajor, trplMinor, fmtPow, 5, 'TRPL (Norm.)', 50,
    { padding: [0, 18, 0, 0] }));
  // panel f
  xAxis.push(...axisPair('x', 5, 'value', 0, 15, tusMajor, tusMinor, fmtInt, 8, 'Time (\u03bcs)', 31, {}));
  yAxis.push(...axisPair('y', 5, 'log', 0.011, 1, pvMajor, pvMinor, fmtPv, 12, 'Photovoltage (Norm.)', 46,
    { padding: [0, 34, 0, 0] }));

  const cA = { el: '#2b5a8c', fit: '#8db4e2', eqe: '#4a8ad4', phi: '#a9c9ee' };
  const cB = { el: '#a30b0b', fit: '#f29090', eqe: '#e00000', phi: '#f4a6a6' };
  const cC = { el: '#c98a4b', fit: '#fdd26e', eqe: '#d39a5e', phi: '#eec4a2' };
  const dColors = ['#3a6ea8', '#ff0000', '#ffc000'];
  const eColors = ['#c4c4c4', '#36689e', '#ff0000', '#ffd54a'];
  const fColors = ['#3b6ba5', '#ff0000', '#e6a800'];

  const series: any[] = [];
  const spec = [
    [aEL, aFit, aEQE, aPhi, cA],
    [bEL, bFit, bEQE, bPhi, cB],
    [cEL, cFit, cEQE, cPhi, cC],
  ];
  spec.forEach((s: any, p) => {
    const col = s[4];
    series.push(lineS('phi' + p, s[3], p, col.phi, 2, [2, 3], 2));
    series.push(lineS('EQE' + p, s[2], p, col.eqe, 2, 'solid', 3));
    series.push(lineS('fit' + p, s[1], p, col.fit, 2, [7, 5], 4));
    series.push(lineS('EL' + p, s[0], p, col.el, 2, 'solid', 5));
  });
  const dSeries = [dL8, dTer, dT9];
  dSeries.forEach((arr, i) => {
    series.push(lineS(dNames[i], dJ.map((j, k) => [j, arr[k]]), 3, dColors[i], 2));
  });
  [eIRF, eL8, eTer, eT9].forEach((arr, i) => {
    series.push(lineS(eNames[i], arr, 4, eColors[i], 1.6, 'solid', 2 + i));
  });
  series.push(bandS(fL8Hi, fL8Lo, 5, '#c3d7ee'));
  series.push(bandS(fTerHi, fTerLo, 5, '#f6c6d2'));
  series.push(bandS(fT9Hi, fT9Lo, 5, '#f4e6d6'));
  [fL8Fit, fTerFit, fT9Fit].forEach((arr, i) => {
    series.push(lineS(dNames[i], arr, 5, fColors[i], 2, 'solid', 3));
  });

  const legendBase = {
    orient: 'vertical', itemWidth: 47, itemHeight: 2.5, icon: 'rect', selectedMode: false, align: 'left',
    textStyle: { fontSize: 20, fontFamily: FONT, color: '#000', lineHeight: 20 }, padding: 0,
  };
  const legend = [
    { ...legendBase, left: 157, top: 596, itemGap: 5,
      data: dNames.map((n, i) => ({ name: n, icon: 'rect', itemStyle: { color: dColors[i], borderWidth: 0 } })) },
    { ...legendBase, left: 569, top: 573, itemGap: 5.7,
      data: eNames.map((n, i) => ({ name: n, icon: 'rect', itemStyle: { color: eColors[i], borderWidth: 0 } })) },
    { ...legendBase, left: 1014, top: 424, itemGap: 5,
      data: dNames.map((n, i) => ({ name: n, icon: 'rect', itemStyle: { color: fColors[i], borderWidth: 0 } })) },
  ];

  const lbl = (x: number, y: number, t: string) => ({
    type: 'text', x, y, silent: true,
    style: { text: t, fontSize: 25, fontWeight: 'bold', fontFamily: FONT, fill: '#000', align: 'center', verticalAlign: 'middle' },
  });
  const EQE = '{m|EQE}{s|ftps}';
  const PHI = '{i|\u03d5}{s|EL}{m|/}{i|\u03d5}{s|bb}';
  const EQEPHI = '{m|EQE}{s|ftps}{m|*}{i|\u03d5}{s|bb}';
  const graphic = [
    lbl(36, 21, 'a'), lbl(461, 21, 'b'), lbl(885, 21, 'c'),
    lbl(37, 383, 'd'), lbl(461, 383, 'e'), lbl(881, 383, 'f'),
    txt(103, 88, '{m|EL}'), txt(362, 72, EQE), txt(140, 285, PHI), txt(313, 284, EQEPHI),
    txt(530, 85, '{m|EL}'), txt(788, 69, EQE), txt(567, 283, PHI), txt(738, 280, EQEPHI),
    txt(947, 85, '{m|EL}'), txt(1205, 71, EQE), txt(985, 285, PHI), txt(1158, 280, EQEPHI),
    txt(142, 461, dVoc[1], { fill: dColors[1], fontSize: 20.5 }),
    txt(142, 525, dVoc[0], { fill: dColors[0], fontSize: 20.5 }),
    txt(142, 571, dVoc[2], { fill: dColors[2], fontSize: 20.5 }),
  ];

  return {
    animation: false,
    backgroundColor: '#fff',
    textStyle: { fontFamily: FONT },
    grid: GRIDS.map((g) => ({
      ...g, show: true, borderColor: '#000', borderWidth: AXW, backgroundColor: 'transparent',
      containLabel: false, outerBoundsMode: 'none',
    })),
    xAxis, yAxis, series, legend, graphic,
  };
}

export default function App() {
  const ref = useRef<HTMLDivElement>(null);
  useEffect(() => {
    document.body.style.margin = '0';
    const chart = echarts.init(ref.current as HTMLDivElement, null, { renderer: 'svg', width: 1290, height: 739 });
    chart.setOption(buildOption() as any);
    return () => chart.dispose();
  }, []);
  return <div ref={ref} style={{ position: 'absolute', left: 0, top: 0, width: 1290, height: 739, background: '#fff' }} />;
}
